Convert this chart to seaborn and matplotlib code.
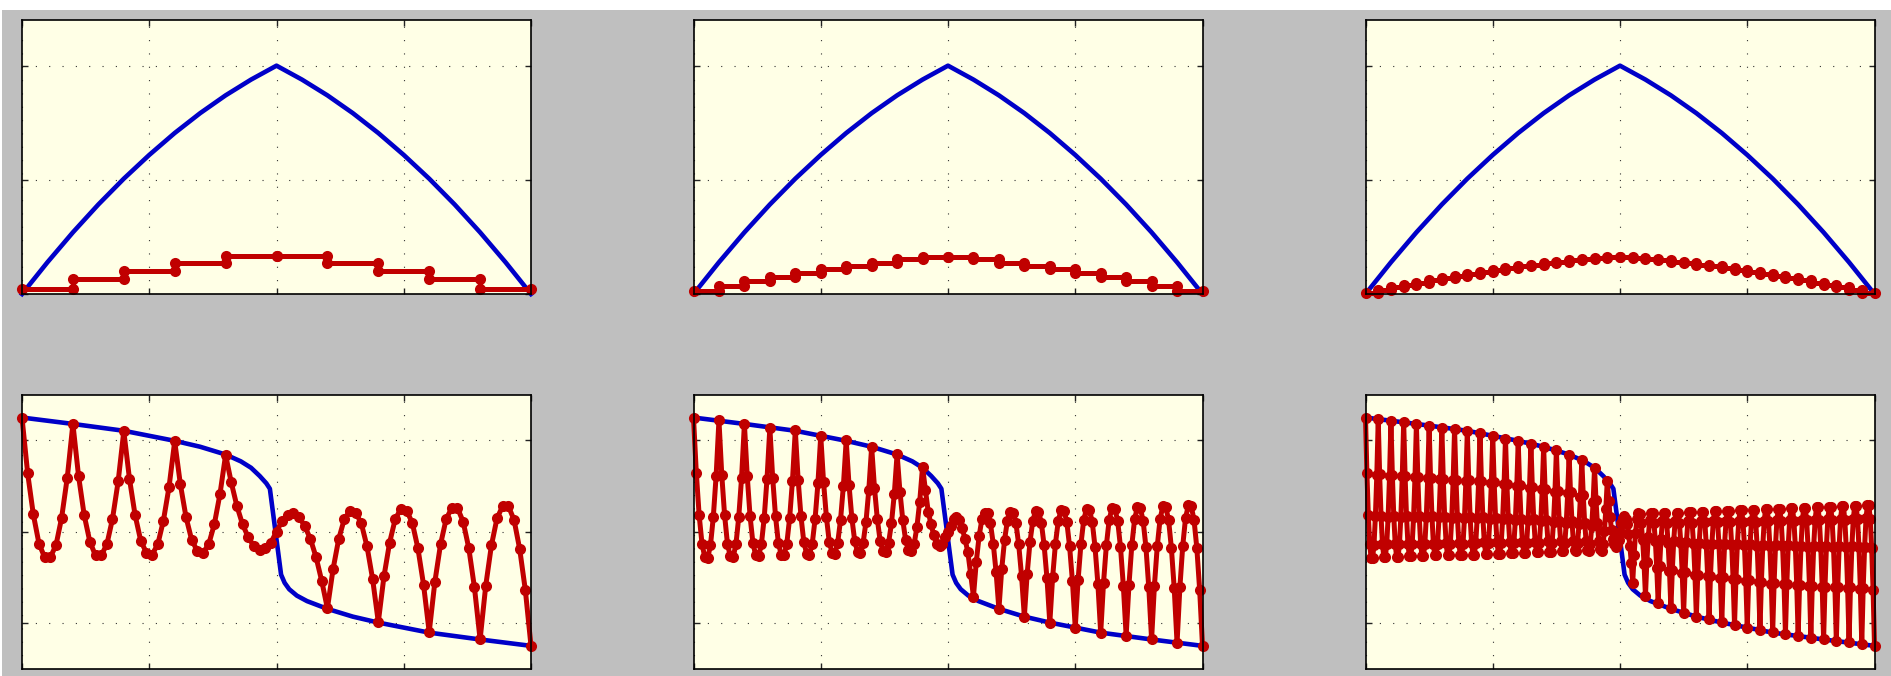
import numpy as np
import matplotlib
matplotlib.use("Agg")
import matplotlib.pyplot as plt
from matplotlib.patches import Rectangle
import seaborn as sns

# top row: blue reference curve on x = 0, 0.05, ..., 1
blue_top = [0.0, 0.139, 0.270, 0.392, 0.505, 0.609, 0.705, 0.792, 0.870, 0.939, 1.0,
            0.939, 0.870, 0.792, 0.705, 0.609, 0.505, 0.392, 0.270, 0.139, 0.0]

# top row: red cell values (10, 20, 40 cells)
red_top_10 = [0.023, 0.064, 0.101, 0.134, 0.166, 0.166, 0.134, 0.101, 0.064, 0.023]
red_top_20 = [0.013, 0.035, 0.057, 0.076, 0.093, 0.108, 0.123, 0.137, 0.152, 0.164,
              0.164, 0.152, 0.137, 0.123, 0.108, 0.093, 0.076, 0.057, 0.035, 0.013]
red_top_40 = [0.006, 0.018, 0.029, 0.040, 0.050, 0.060, 0.070, 0.079, 0.088, 0.097,
              0.105, 0.113, 0.121, 0.128, 0.135, 0.141, 0.147, 0.153, 0.159, 0.164,
              0.164, 0.159, 0.153, 0.147, 0.141, 0.135, 0.128, 0.121, 0.113, 0.105,
              0.097, 0.088, 0.079, 0.070, 0.060, 0.050, 0.040, 0.029, 0.018, 0.006]

# bottom row: blue reference curve
blue_bot_x = [0, 0.1, 0.2, 0.3, 0.35, 0.4, 0.43, 0.45, 0.467, 0.48, 0.487,
              0.509, 0.516, 0.525, 0.54, 0.56, 0.6, 0.65, 0.7, 0.8, 0.9, 1.0]
blue_bot_y = [1.25, 1.18, 1.105, 0.995, 0.93, 0.845, 0.77, 0.70, 0.61, 0.53, 0.47,
              -0.47, -0.56, -0.63, -0.70, -0.76, -0.845, -0.93, -0.995, -1.105, -1.18, -1.25]

# bottom row: red values, 9 points per cell (evenly spaced), last row = value at x=1
red_bot_10 = [
    [1.25, 0.64, 0.19, -0.13, -0.28, -0.28, -0.15, 0.15, 0.59],
    [1.18, 0.61, 0.18, -0.11, -0.26, -0.26, -0.14, 0.14, 0.55],
    [1.10, 0.58, 0.18, -0.10, -0.23, -0.25, -0.14, 0.12, 0.49],
    [0.99, 0.52, 0.16, -0.09, -0.21, -0.23, -0.14, 0.08, 0.41],
    [0.84, 0.54, 0.28, 0.08, -0.06, -0.16, -0.20, -0.18, -0.12],
    [0.00, 0.12, 0.18, 0.20, 0.16, 0.06, -0.08, -0.28, -0.54],
    [-0.84, -0.41, -0.08, 0.14, 0.23, 0.21, 0.09, -0.16, -0.52],
    [-0.99, -0.49, -0.12, 0.14, 0.25, 0.23, 0.10, -0.18, -0.58],
    [-1.10, -0.55, -0.14, 0.14, 0.26, 0.26, 0.11, -0.18, -0.61],
    [-1.18, -0.59, -0.15, 0.15, 0.28, 0.28, 0.13, -0.19, -0.64],
    [-1.25],
]

red_bot_20 = [
    [1.25, 0.64, 0.18, -0.13, -0.28, -0.29, -0.15, 0.16, 0.61],
    [1.22, 0.62, 0.18, -0.13, -0.27, -0.28, -0.14, 0.16, 0.59],
    [1.18, 0.61, 0.17, -0.12, -0.26, -0.27, -0.14, 0.15, 0.58],
    [1.14, 0.59, 0.17, -0.12, -0.25, -0.26, -0.13, 0.15, 0.56],
    [1.11, 0.57, 0.17, -0.11, -0.24, -0.25, -0.13, 0.14, 0.53],
    [1.05, 0.54, 0.16, -0.11, -0.23, -0.24, -0.12, 0.13, 0.50],
    [1.00, 0.51, 0.15, -0.10, -0.22, -0.23, -0.12, 0.11, 0.46],
    [0.93, 0.48, 0.14, -0.10, -0.21, -0.22, -0.12, 0.09, 0.41],
    [0.85, 0.44, 0.13, -0.09, -0.20, -0.21, -0.14, 0.05, 0.33],
    [0.71, 0.46, 0.22, 0.08, -0.04, -0.13, -0.16, -0.14, -0.06],
    [0.00, 0.06, 0.14, 0.16, 0.13, 0.04, -0.08, -0.22, -0.46],
    [-0.71, -0.33, -0.05, 0.14, 0.21, 0.20, 0.09, -0.13, -0.44],
    [-0.85, -0.41, -0.09, 0.12, 0.22, 0.21, 0.10, -0.14, -0.48],
    [-0.93, -0.46, -0.11, 0.12, 0.23, 0.22, 0.10, -0.15, -0.51],
    [-1.00, -0.50, -0.13, 0.12, 0.24, 0.23, 0.11, -0.16, -0.54],
    [-1.05, -0.53, -0.14, 0.13, 0.25, 0.24, 0.11, -0.17, -0.57],
    [-1.11, -0.56, -0.15, 0.13, 0.26, 0.25, 0.12, -0.17, -0.59],
    [-1.14, -0.58, -0.15, 0.14, 0.27, 0.26, 0.12, -0.17, -0.61],
    [-1.18, -0.59, -0.16, 0.14, 0.28, 0.27, 0.13, -0.18, -0.62],
    [-1.22, -0.61, -0.16, 0.15, 0.29, 0.28, 0.13, -0.18, -0.64],
    [-1.25],
]

red_bot_40 = [
    [1.25, 0.64, 0.18, -0.14, -0.29, -0.29, -0.15, 0.17, 0.62],
    [1.23, 0.63, 0.17, -0.14, -0.28, -0.28, -0.14, 0.16, 0.61],
    [1.21, 0.62, 0.17, -0.13, -0.28, -0.28, -0.14, 0.16, 0.61],
    [1.20, 0.61, 0.17, -0.13, -0.27, -0.27, -0.14, 0.16, 0.60],
    [1.18, 0.60, 0.17, -0.13, -0.27, -0.27, -0.13, 0.16, 0.59],
    [1.16, 0.59, 0.17, -0.13, -0.26, -0.26, -0.13, 0.16, 0.58],
    [1.14, 0.58, 0.16, -0.12, -0.26, -0.26, -0.13, 0.15, 0.57],
    [1.12, 0.57, 0.16, -0.12, -0.25, -0.25, -0.13, 0.15, 0.56],
    [1.10, 0.57, 0.16, -0.12, -0.25, -0.25, -0.12, 0.15, 0.55],
    [1.08, 0.55, 0.16, -0.11, -0.24, -0.24, -0.12, 0.14, 0.53],
    [1.05, 0.54, 0.15, -0.11, -0.24, -0.24, -0.12, 0.14, 0.52],
    [1.02, 0.52, 0.15, -0.11, -0.23, -0.23, -0.12, 0.13, 0.50],
    [0.99, 0.51, 0.14, -0.11, -0.23, -0.23, -0.12, 0.13, 0.48],
    [0.96, 0.49, 0.14, -0.11, -0.22, -0.22, -0.12, 0.12, 0.47],
    [0.93, 0.47, 0.13, -0.10, -0.22, -0.22, -0.12, 0.11, 0.44],
    [0.89, 0.45, 0.12, -0.10, -0.21, -0.21, -0.12, 0.10, 0.42],
    [0.84, 0.43, 0.12, -0.10, -0.20, -0.21, -0.12, 0.08, 0.38],
    [0.78, 0.40, 0.10, -0.10, -0.20, -0.21, -0.13, 0.06, 0.33],
    [0.70, 0.35, 0.09, -0.10, -0.19, -0.21, -0.14, 0.01, 0.25],
    [0.56, 0.34, 0.16, 0.02, -0.08, -0.14, -0.17, -0.15, -0.09],
    [0.00, 0.09, 0.15, 0.17, 0.14, 0.08, -0.02, -0.16, -0.34],
    [-0.56, -0.25, -0.01, 0.14, 0.21, 0.19, 0.10, -0.09, -0.35],
    [-0.70, -0.33, -0.06, 0.13, 0.21, 0.20, 0.10, -0.10, -0.40],
    [-0.78, -0.38, -0.08, 0.12, 0.21, 0.20, 0.10, -0.12, -0.43],
    [-0.84, -0.42, -0.10, 0.12, 0.21, 0.21, 0.10, -0.12, -0.45],
    [-0.89, -0.44, -0.11, 0.12, 0.22, 0.22, 0.10, -0.13, -0.47],
    [-0.93, -0.47, -0.12, 0.12, 0.22, 0.22, 0.11, -0.14, -0.49],
    [-0.96, -0.48, -0.13, 0.12, 0.23, 0.23, 0.11, -0.14, -0.51],
    [-0.99, -0.50, -0.13, 0.12, 0.23, 0.23, 0.11, -0.15, -0.52],
    [-1.02, -0.52, -0.14, 0.12, 0.24, 0.24, 0.11, -0.15, -0.54],
    [-1.05, -0.53, -0.14, 0.12, 0.24, 0.24, 0.11, -0.16, -0.55],
    [-1.08, -0.55, -0.15, 0.12, 0.25, 0.25, 0.12, -0.16, -0.57],
    [-1.10, -0.56, -0.15, 0.13, 0.25, 0.25, 0.12, -0.16, -0.57],
    [-1.12, -0.57, -0.15, 0.13, 0.26, 0.26, 0.12, -0.16, -0.58],
    [-1.14, -0.58, -0.16, 0.13, 0.26, 0.26, 0.13, -0.17, -0.59],
    [-1.16, -0.59, -0.16, 0.13, 0.27, 0.27, 0.13, -0.17, -0.60],
    [-1.18, -0.60, -0.16, 0.14, 0.27, 0.27, 0.13, -0.17, -0.61],
    [-1.20, -0.61, -0.16, 0.14, 0.28, 0.28, 0.13, -0.17, -0.62],
    [-1.21, -0.61, -0.16, 0.14, 0.28, 0.28, 0.14, -0.17, -0.63],
    [-1.23, -0.62, -0.17, 0.15, 0.29, 0.29, 0.14, -0.18, -0.64],
    [-1.25],
]

BLUE = "#0000c8"
RED = "#c00000"

fig = plt.figure(figsize=(18.91, 6.76), dpi=100)
fig.patch.set_facecolor("#bfbfbf")
# thin white margin on top and left
fig.add_artist(Rectangle((0, 1 - 10 / 676), 1, 10 / 676, transform=fig.transFigure,
                         facecolor="white", edgecolor="none", zorder=-5))
fig.add_artist(Rectangle((0, 0), 2 / 1891, 1, transform=fig.transFigure,
                         facecolor="white", edgecolor="none", zorder=-5))

lefts = [22 / 1891, 693.5 / 1891, 1365.5 / 1891]
w = 509 / 1891
h = 274 / 676
bottoms = [(676 - 294) / 676, (676 - 668.7) / 676]

red_kw = dict(color=RED, lw=3.6, marker="o", markersize=8, markeredgecolor=RED,
              markeredgewidth=0, estimator=None, sort=False, clip_on=False)
blue_kw = dict(color=BLUE, lw=3.3, estimator=None, sort=False, clip_on=False)


def style(ax, ylim, yticks):
    ax.set_facecolor("#ffffe6")
    ax.set_xlim(0, 1)
    ax.set_ylim(*ylim)
    ax.set_xticks([0, 0.25, 0.5, 0.75, 1])
    ax.set_yticks(yticks)
    ax.grid(True, color="#333333", linestyle=(0, (1, 11)), linewidth=0.8)
    ax.set_axisbelow(True)
    ax.tick_params(direction="in", top=True, right=True, labelbottom=False,
                   labelleft=False, length=4, width=1, color="#222222")
    for sp in ax.spines.values():
        sp.set_color("black")
        sp.set_linewidth(1.2)
    ax.set_xlabel("")
    ax.set_ylabel("")


# top row: staircase of cell averages
x_blue_top = np.linspace(0, 1, len(blue_top))
for c, vals in enumerate([red_top_10, red_top_20, red_top_40]):
    ax = fig.add_axes([lefts[c], bottoms[0], w, h])
    sns.lineplot(x=x_blue_top, y=blue_top, ax=ax, **blue_kw)
    edges = np.linspace(0, 1, len(vals) + 1)
    xs = np.column_stack([edges[:-1], edges[1:]]).ravel()
    ys = np.repeat(vals, 2)
    sns.lineplot(x=xs, y=ys, ax=ax, **red_kw)
    style(ax, (0, 1.2), [0, 0.5, 1])

# bottom row: oscillating solution
for c, rows in enumerate([red_bot_10, red_bot_20, red_bot_40]):
    ax = fig.add_axes([lefts[c], bottoms[1], w, h])
    sns.lineplot(x=blue_bot_x, y=blue_bot_y, ax=ax, **blue_kw)
    yv = [v for row in rows for v in row]
    xs = np.linspace(0, 1, len(yv))
    sns.lineplot(x=xs, y=yv, ax=ax, **red_kw)
    style(ax, (-1.5, 1.5), [-1, 0, 1])

fig.savefig("out.png", dpi=100, facecolor=fig.get_facecolor())
